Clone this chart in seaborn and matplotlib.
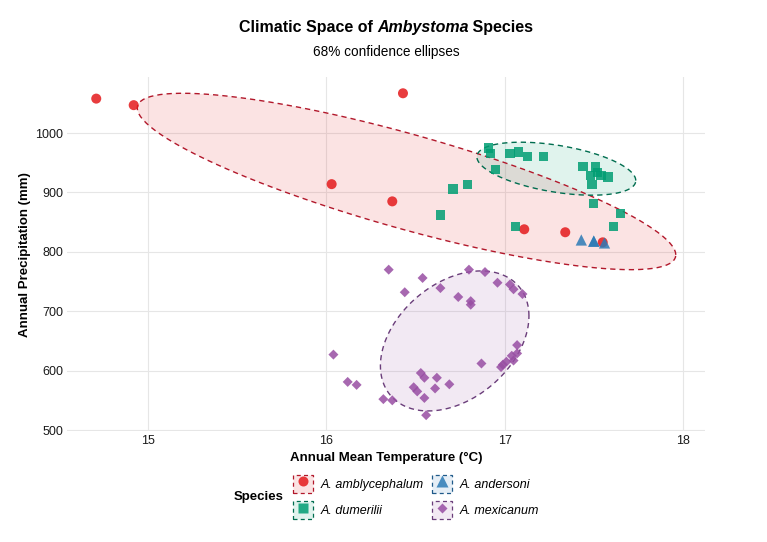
# Libraries
# ===================================================
import numpy as np
import pandas as pd
import seaborn as sns
import matplotlib.pyplot as plt
import matplotlib.lines as mlines
import matplotlib.patches as mpatches
from matplotlib.colors import to_rgb
from matplotlib.legend_handler import HandlerTuple

# Data
# ===================================================
species = ['A. amblycephalum', 'A. dumerilii', 'A. andersoni', 'A. mexicanum']

ambly_temp = [14.71, 14.92, 16.43, 16.03, 16.37, 17.11, 17.34, 17.55]
ambly_prec = [1058, 1047, 1067, 914, 885, 838, 833, 816]

dumer_temp = [16.91, 16.92, 17.03, 17.08, 17.13, 17.22, 16.95, 17.44, 17.51, 17.48, 17.52,
              17.54, 17.58, 17.49, 17.50, 17.65, 17.61, 17.06, 16.64, 16.71, 16.79]
dumer_prec = [975, 966, 966, 968, 960, 961, 939, 944, 943, 929, 933,
              928, 926, 913, 882, 864, 843, 843, 862, 906, 913]

ander_temp = [17.43, 17.50, 17.50, 17.56]
ander_prec = [820, 818, 818, 815]

mexic_temp = [16.35, 16.54, 16.44, 16.64, 16.80, 16.89, 16.96, 17.03, 17.05, 17.10, 16.74,
              16.81, 16.81, 16.04, 16.12, 16.17, 16.32, 16.37, 16.53, 16.55, 16.62, 16.49,
              16.51, 16.55, 16.61, 16.69, 16.56, 16.87, 16.98, 16.99, 17.01, 17.04, 17.05,
              17.07, 17.07]
mexic_prec = [770, 756, 732, 739, 770, 766, 748, 745, 737, 729, 724,
              717, 711, 627, 581, 576, 552, 550, 596, 588, 588, 572,
              565, 554, 570, 577, 525, 612, 606, 610, 615, 625, 617,
              629, 643]

# 68% ellipses: centre, half-extent on each axis, correlation
ell_species = ['A. amblycephalum', 'A. dumerilii', 'A. mexicanum']
ell_cx = [16.45, 17.29, 16.72]
ell_cy = [918.5, 940.0, 650.0]
ell_sx = [1.51, 0.4455, 0.4165]
ell_sy = [148.5, 44.6, 117.9]
ell_r = [-0.832, -0.448, 0.356]

# Styles
colors = {'A. amblycephalum': '#E41A1C', 'A. dumerilii': '#009E73',
          'A. andersoni': '#2C7BB6', 'A. mexicanum': '#984EA3'}
edges = {'A. amblycephalum': '#B2182B', 'A. dumerilii': '#006D4F',
         'A. andersoni': '#1F5A8A', 'A. mexicanum': '#6A3D7A'}
markers = {'A. amblycephalum': 'o', 'A. dumerilii': 's',
           'A. andersoni': '^', 'A. mexicanum': 'D'}
sizes = {'A. amblycephalum': 52, 'A. dumerilii': 44,
         'A. andersoni': 66, 'A. mexicanum': 26}

df = pd.concat([
    pd.DataFrame({'species': species[0], 'temp': ambly_temp, 'prec': ambly_prec}),
    pd.DataFrame({'species': species[1], 'temp': dumer_temp, 'prec': dumer_prec}),
    pd.DataFrame({'species': species[2], 'temp': ander_temp, 'prec': ander_prec}),
    pd.DataFrame({'species': species[3], 'temp': mexic_temp, 'prec': mexic_prec}),
], ignore_index=True)

# Ellipse outlines from centre + covariance
ells = {}
ang = np.linspace(0, 2 * np.pi, 121)
circle = np.column_stack([np.cos(ang), np.sin(ang)])
for sp, cx, cy, sx, sy, r in zip(ell_species, ell_cx, ell_cy, ell_sx, ell_sy, ell_r):
    S = np.array([[sx ** 2, r * sx * sy], [r * sx * sy, sy ** 2]])
    ells[sp] = np.array([cx, cy]) + circle @ np.linalg.cholesky(S).T

# Data Visualization
# ===================================================
plt.rcParams.update({'font.family': 'sans-serif', 'font.sans-serif': ['Liberation Sans'], 'font.size': 9})

fig = plt.figure(figsize=(7.67, 5.42), dpi=100)
ax = fig.add_axes([0.0877, 0.2043, 0.8312, 0.6533])

# Ellipses
for sp, e in ells.items():
    ax.fill(e[:, 0], e[:, 1], color=colors[sp], alpha=0.12, lw=0, zorder=1)
    ax.plot(e[:, 0], e[:, 1], color=edges[sp], lw=1.0, dashes=(3.8, 2.9), zorder=2)

# Points
for sp in species:
    sns.scatterplot(data=df[df['species'] == sp], x='temp', y='prec',
                    color=colors[sp], marker=markers[sp], s=sizes[sp],
                    alpha=0.85, edgecolor='none', legend=False, ax=ax, zorder=3)

# Limits (ggplot style 5% expansion including ellipses)
allx = np.concatenate([df['temp'].to_numpy()] + [e[:, 0] for e in ells.values()])
ally = np.concatenate([df['prec'].to_numpy()] + [e[:, 1] for e in ells.values()])
xr = allx.max() - allx.min()
yr = ally.max() - ally.min()
ax.set_xlim(allx.min() - 0.05 * xr, allx.max() + 0.05 * xr)
ax.set_ylim(ally.min() - 0.05 * yr, ally.max() + 0.05 * yr)

ax.set_xticks([15, 16, 17, 18])
ax.set_yticks([500, 600, 700, 800, 900, 1000])
ax.tick_params(length=0, labelsize=9, colors='#1A1A1A', pad=3)
ax.grid(True, color='#E6E6E6', lw=0.8, zorder=0)
ax.set_axisbelow(True)
for s in ax.spines.values():
    s.set_visible(False)

ax.set_xlabel('')
ax.set_ylabel('')
fig.text(0.503, 0.155, 'Annual Mean Temperature (°C)', ha='center', va='center',
         fontsize=9.5, fontweight='bold')
fig.text(0.033, 0.53, 'Annual Precipitation (mm)', ha='center', va='center',
         rotation=90, fontsize=9.5, fontweight='bold')

# Title with italic genus
parts = [('Climatic Space of ', 'normal'), ('Ambystoma', 'italic'), (' Species', 'normal')]
texts = [fig.text(0, 0.950, t, fontsize=11.5, fontweight='bold', fontstyle=st,
                  ha='left', va='center') for t, st in parts]
renderer = fig.canvas.get_renderer()
widths = [t.get_window_extent(renderer).width for t in texts]
x0 = 386 - sum(widths) / 2
for t, w in zip(texts, widths):
    t.set_x(x0 / 767)
    x0 += w
fig.text(386 / 767, 0.904, '68% confidence ellipses', ha='center', va='center', fontsize=9.8)

# Legend
handles = []
order = ['A. amblycephalum', 'A. dumerilii', 'A. andersoni', 'A. mexicanum']
msize = {'o': 7.2, 's': 6.6, '^': 8.0, 'D': 5.0}
for sp in order:
    box = mpatches.Rectangle((0, 0), 1, 1, facecolor=(*to_rgb(colors[sp]), 0.12),
                             edgecolor=edges[sp], lw=0.9, linestyle=(0, (3.2, 2.6)))
    mk = mlines.Line2D([], [], marker=markers[sp], color=colors[sp], alpha=0.85, lw=0,
                       markeredgecolor='none', markersize=msize[markers[sp]])
    handles.append((box, mk))
leg = fig.legend(handles, order, handler_map={tuple: HandlerTuple(ndivide=1, pad=0)},
                 loc='center left', bbox_to_anchor=(293 / 767, 1 - 497 / 542),
                 ncol=2, frameon=False, borderpad=0, borderaxespad=0,
                 handlelength=1.6, handleheight=1.8, handletextpad=0.6,
                 columnspacing=0.7, labelspacing=0.7,
                 prop={'size': 9, 'style': 'italic'})
fig.text(259 / 767, 1 - 497 / 542, 'Species', ha='center', va='center',
         fontsize=9.5, fontweight='bold')

plt.savefig('out.png', dpi=100)
